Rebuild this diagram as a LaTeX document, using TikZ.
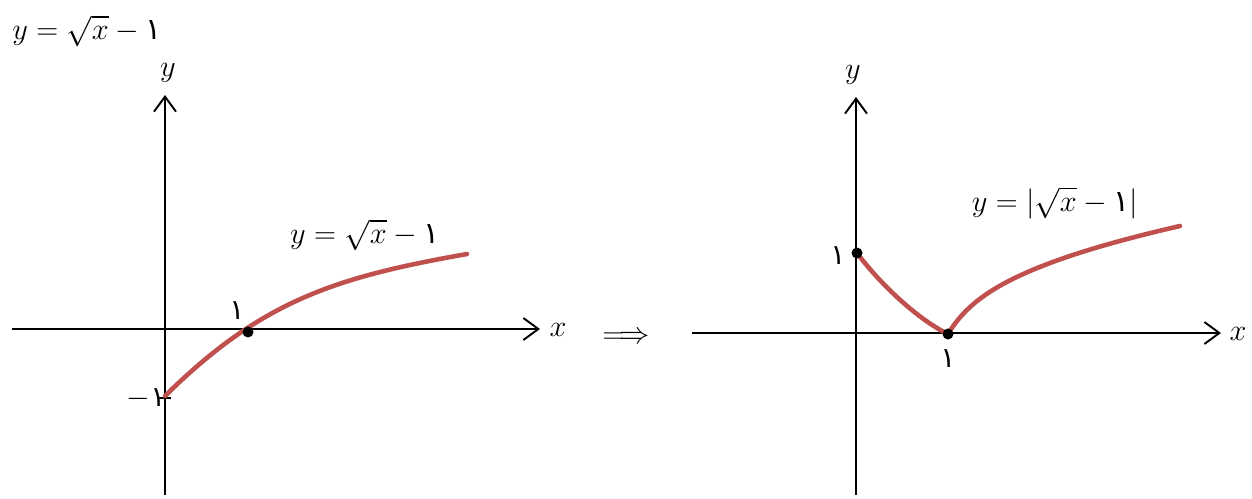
\documentclass[tikz,border=0pt]{standalone}
\usepackage{amsmath}
\usepackage{fontspec}
\newfontfamily\arabicfont[Script=Arabic]{DejaVu Sans}
\usetikzlibrary{arrows.meta}
\definecolor{curvered}{RGB}{192,80,77}
\newcommand{\yek}{\mbox{\arabicfont ١}}

\begin{document}
\begin{tikzpicture}[
    x=0.02cm, y=-0.02cm,
    axis/.style={line width=1.1pt, -{Straight Barb[length=0.3cm, width=0.44cm, line width=1.1pt]}},
    graph/.style={draw=curvered, line width=2.6pt, line cap=round},
    pt/.style={circle, fill=black, inner sep=0pt, minimum size=0.22cm},
    lbl/.style={font=\fontsize{16}{19}\selectfont, inner sep=1pt},
    eq/.style={font=\fontsize{17}{20}\selectfont, inner sep=0pt}
]
\useasboundingbox (0,0) rectangle (1252,498);

% Title
\node[eq, anchor=west] (title) at (12,31) {$y=\sqrt{x}-\yek$};

% Left graph: axes
\coordinate (lxs) at (12,329);
\coordinate (lxe) at (540,329);
\coordinate (lys) at (165,495);
\coordinate (lye) at (165,95);
\draw[axis] (lxs) -- (lxe);
\draw[axis] (lys) -- (lye);
\node[lbl] (lx) at (558,330) {$x$};
\node[lbl] (ly) at (168,73) {$y$};

% Left graph: tick at -1
\coordinate (tka) at (159,398);
\coordinate (tkb) at (171,398);
\draw[line width=1.1pt] (tka) -- (tkb);
\node[lbl] (lmone) at (146,399) {$-\yek$};

% Left graph: curve
\coordinate (la) at (165,396);
\coordinate (lb) at (467,254);
\draw[graph] (la) .. controls (262,300) and (337,277) .. (lb);
\node[pt] (lp) at (248,332) {};
\node[lbl] (lone) at (237,311) {\yek};
\node[eq] (leq) at (365,235) {$y=\sqrt{x}-\yek$};

% Implication
\node[eq] (impl) at (626,338) {$\Longrightarrow$};

% Right graph: axes
\coordinate (rxs) at (692,333);
\coordinate (rxe) at (1221,333);
\coordinate (rys) at (856,495);
\coordinate (rye) at (856,97);
\draw[axis] (rxs) -- (rxe);
\draw[axis] (rys) -- (rye);
\node[lbl] (rx) at (1238,334) {$x$};
\node[lbl] (ry) at (853,75) {$y$};

% Right graph: curve
\coordinate (ra) at (857,253);
\coordinate (rb) at (948,334);
\coordinate (rc) at (1180,226);
\draw[graph] (ra) .. controls (877,280) and (915,318) .. (rb);
\draw[graph] (rb) .. controls (970,298) and (1010,265) .. (rc);
\node[pt] (rp1) at (ra) {};
\node[pt] (rp2) at (rb) {};
\node[lbl] (rone1) at (838,256) {\yek};
\node[lbl] (rone2) at (948,359) {\yek};
\node[eq] (req) at (1055,203) {$y=\left|\sqrt{x}-\yek\right|$};

\end{tikzpicture}
\end{document}
